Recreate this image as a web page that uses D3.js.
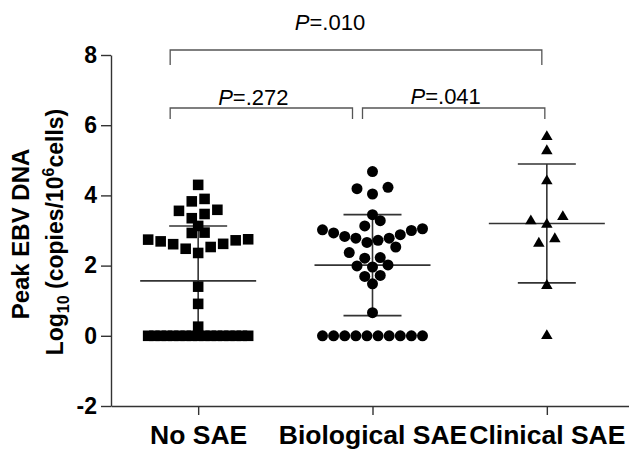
<!DOCTYPE html>
<html>
<head>
<meta charset="utf-8">
<script src="https://cdn.jsdelivr.net/npm/d3@7"></script>
<style>
  body { margin: 0; background: #fff; }
  svg { display: block; }
</style>
</head>
<body>
<svg id="chart" width="629" height="450"></svg>
<script>
// ── data (log10 peak EBV DNA) ───────────────────────────────────────────────
const groups = ['No SAE', 'Biological SAE', 'Clinical SAE'];

const noSae = [
  0, 0, 0, 0, 0, 0, 0, 0, 0, 0, 0, 0, 0, 0, 0, 0, 0,
  0.26, 0.91, 1.40,
  2.36, 2.48, 2.53, 2.61, 2.62, 2.69, 2.72, 2.74, 2.75,
  2.93, 2.94, 3.13, 3.35, 3.47, 3.56, 3.59, 3.83, 3.90, 4.30,
];
const biologicalSae = [
  0, 0, 0, 0, 0, 0, 0, 0, 0, 0,
  0.66, 1.48, 1.69, 1.72, 1.96, 1.99, 2.02, 2.21, 2.23, 2.37,
  2.53, 2.66, 2.72, 2.78, 2.78, 2.83, 2.88, 2.93, 3.00, 3.02,
  3.05, 3.13, 3.28, 3.45, 4.04, 4.19, 4.23, 4.68,
];
const clinicalSae = [0, 1.43, 2.63, 2.76, 3.17, 3.27, 3.39, 4.41, 5.27, 5.67];

const yTicks = [-2, 0, 2, 4, 6, 8];

const comparisons = [
  { from: 'No SAE',         to: 'Clinical SAE',   p: '.010' },
  { from: 'No SAE',         to: 'Biological SAE', p: '.272' },
  { from: 'Biological SAE', to: 'Clinical SAE',   p: '.041' },
];

// ── layout ──────────────────────────────────────────────────────────────────
const FONT = '"Liberation Sans", Arial, Helvetica, sans-serif';
const INK = '#000';
const LINE = '#333';

const svg = d3.select('#chart');

const y = d3.scaleLinear().domain([-2, 8]).range([406, 55]);
const x = d3.scalePoint().domain(groups).range([111, 634]).padding(0.5);

const SERIES = [
  { name: 'No SAE',         values: noSae,         symbol: d3.symbolSquare,   size: 112, step: 12.8 },
  { name: 'Biological SAE', values: biologicalSae, symbol: d3.symbolCircle,   size: 95,  step: 15.5 },
  { name: 'Clinical SAE',   values: clinicalSae,   symbol: d3.symbolTriangle, size: 57,  step: 16 },
];

// column scatter: rows of nearby values, lowest in the middle, fanning out
function scatterLayout(values, step, maxW) {
  const sorted = values.slice().sort((a, b) => a - b);
  const rows = [];
  let row = null;
  sorted.forEach(v => {
    if (!row || v - row[row.length - 1] > 0.17 || v - row[0] > 0.41) {
      row = [];
      rows.push(row);
    }
    row.push(v);
  });
  const out = [];
  rows.forEach(r => {
    const n = r.length;
    const s = n > 1 ? Math.min(step, maxW / (n - 1)) : 0;
    r.forEach((v, i) => {
      let slot;
      if (n % 2) slot = i === 0 ? 0 : Math.ceil(i / 2) * (i % 2 ? -1 : 1);
      else slot = (Math.floor(i / 2) + 0.5) * (i % 2 ? 1 : -1);
      out.push({ v, dx: slot * s });
    });
  });
  return out;
}

// ── axes ────────────────────────────────────────────────────────────────────
const yAxis = svg.append('g')
  .attr('transform', 'translate(111,0)')
  .call(d3.axisLeft(y).tickValues(yTicks).tickFormat(d => String(d))
    .tickSize(10).tickPadding(4).tickSizeOuter(0));
yAxis.select('.domain').attr('stroke', LINE).attr('stroke-width', 1.4);
yAxis.selectAll('.tick line').attr('stroke', LINE).attr('stroke-width', 1.4);
yAxis.selectAll('.tick text')
  .attr('font-family', FONT).attr('font-size', 23).attr('font-weight', 'bold')
  .attr('fill', INK);

const xAxis = svg.append('g')
  .attr('transform', 'translate(0,406)')
  .call(d3.axisBottom(x).tickSize(9).tickPadding(10).tickSizeOuter(0));
xAxis.select('.domain').attr('stroke', LINE).attr('stroke-width', 1.4);
xAxis.selectAll('.tick line').attr('stroke', LINE).attr('stroke-width', 1.4);
xAxis.selectAll('.tick text')
  .attr('font-family', FONT).attr('font-size', 26.5).attr('font-weight', 'bold')
  .attr('fill', INK).attr('dy', '0.71em');

// y title, two lines
svg.append('text')
  .attr('transform', 'translate(29,234) rotate(-90)')
  .attr('text-anchor', 'middle')
  .attr('font-family', FONT).attr('font-size', 24).attr('font-weight', 'bold')
  .attr('fill', INK)
  .text('Peak EBV DNA');

const t2 = svg.append('text')
  .attr('transform', 'translate(63,232) rotate(-90)')
  .attr('text-anchor', 'middle')
  .attr('font-family', FONT).attr('font-size', 23).attr('font-weight', 'bold')
  .attr('fill', INK);
t2.append('tspan').text('Log');
t2.append('tspan').attr('font-size', 16).attr('dy', 6).text('10');
t2.append('tspan').attr('dy', -6).text(' (copies/10');
t2.append('tspan').attr('font-size', 16).attr('dy', -9).text('6');
t2.append('tspan').attr('dy', 9).text('cells)');

// ── mean ± SD bars ──────────────────────────────────────────────────────────
const MEAN_HALF = 58, CAP_HALF = 29;
const bars = svg.append('g')
  .attr('stroke', LINE).attr('stroke-width', 1.6).attr('fill', 'none');

SERIES.forEach(s => {
  const cx = x(s.name);
  const m = d3.mean(s.values);
  const sd = d3.deviation(s.values);
  bars.append('line').attr('x1', cx).attr('x2', cx).attr('y1', y(m + sd)).attr('y2', y(m - sd));
  bars.append('line').attr('x1', cx - MEAN_HALF).attr('x2', cx + MEAN_HALF).attr('y1', y(m)).attr('y2', y(m));
  [m + sd, m - sd].forEach(v => {
    bars.append('line').attr('x1', cx - CAP_HALF).attr('x2', cx + CAP_HALF).attr('y1', y(v)).attr('y2', y(v));
  });
});

// ── points ──────────────────────────────────────────────────────────────────
SERIES.forEach(s => {
  const cx = x(s.name);
  svg.append('g').selectAll('path')
    .data(scatterLayout(s.values, s.step, 100))
    .join('path')
    .attr('d', d3.symbol(s.symbol, s.size))
    .attr('transform', d => `translate(${cx + d.dx},${y(d.v)})`)
    .attr('fill', INK);
});

// ── significance brackets ───────────────────────────────────────────────────
const BRACKETS = [
  { top: 50,  drop: 15, dx1: -28, dx2: -5,  labelDx: -26, base: 30 },
  { top: 108, drop: 11, dx1: -28, dx2: -20, labelDx: -8,  base: 105 },
  { top: 108, drop: 11, dx1: -10, dx2: -2,  labelDx: -8,  base: 104 },
];

comparisons.forEach((c, i) => {
  const b = BRACKETS[i];
  const x1 = x(c.from) + b.dx1;
  const x2 = x(c.to) + b.dx2;
  svg.append('path')
    .attr('d', `M${x1},${b.top + b.drop}V${b.top}H${x2}V${b.top + b.drop}`)
    .attr('fill', 'none').attr('stroke', '#555').attr('stroke-width', 1.3);
  const lbl = svg.append('text')
    .attr('x', (x1 + x2) / 2 + b.labelDx).attr('y', b.base)
    .attr('text-anchor', 'middle')
    .attr('font-family', FONT).attr('font-size', 22).attr('fill', INK);
  lbl.append('tspan').attr('font-style', 'italic').text('P');
  lbl.append('tspan').text('=' + c.p);
});
</script>
</body>
</html>
